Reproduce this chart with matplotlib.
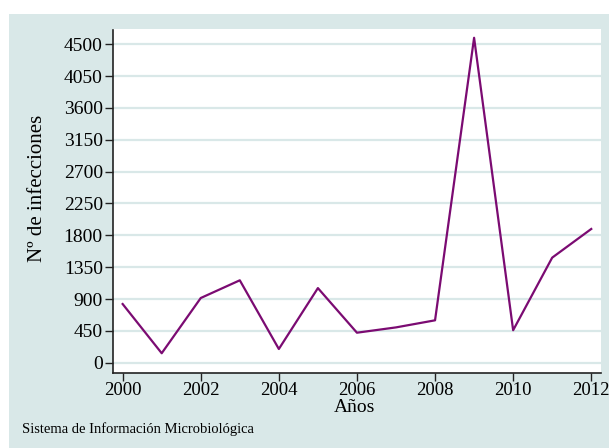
import matplotlib
matplotlib.use("Agg")
import matplotlib.pyplot as plt
from matplotlib.patches import Rectangle

years = [2000, 2001, 2002, 2003, 2004, 2005, 2006, 2007, 2008, 2009, 2010, 2011, 2012]
infecciones = [830, 135, 915, 1165, 195, 1055, 425, 500, 600, 4590, 460, 1485, 1890]
yticks = [0, 450, 900, 1350, 1800, 2250, 2700, 3150, 3600, 4050, 4500]
xticks = [2000, 2002, 2004, 2006, 2008, 2010, 2012]

W, H = 609, 448
fig = plt.figure(figsize=(W / 100, H / 100), dpi=100)
fig.patch.set_facecolor("white")
bg = "#d9e8e8"
fig.patches.append(Rectangle((8.5 / W, 0), 1 - 8.5 / W, 1 - 14 / H, transform=fig.transFigure,
                             facecolor=bg, edgecolor="none", zorder=-10))

left, right, top, bottom = 112.5, 601, 29.5, 372.5
ax = fig.add_axes([left / W, 1 - bottom / H, (right - left) / W, (bottom - top) / H])
ax.set_facecolor("white")

plt.rcParams["font.family"] = ["Liberation Serif", "DejaVu Serif"]
font = ["Liberation Serif", "DejaVu Serif"]

for y in yticks:
    ax.axhline(y, color=bg, lw=1.6, zorder=1)

ax.plot(years, infecciones, color="#7b0b72", lw=1.6, zorder=3)

ax.set_xlim(1999.74, 2012.25)
ax.set_ylim(-137, 4707)
ax.set_yticks(yticks)
ax.set_xticks(xticks)
ax.set_yticklabels([str(v) for v in yticks], family=font, fontsize=14)
ax.set_xticklabels([str(v) for v in xticks], family=font, fontsize=13.5)
ax.tick_params(axis="y", direction="out", length=6, width=1, color="#222222", pad=1)
ax.tick_params(axis="x", direction="out", length=5.5, width=1, color="#222222", pad=1)
for s in ["top", "right"]:
    ax.spines[s].set_visible(False)
for s in ["left", "bottom"]:
    ax.spines[s].set_color("#222222")
    ax.spines[s].set_linewidth(1.2)

ax.set_xlabel("Años", family=font, fontsize=14, va="center")
ax.xaxis.set_label_coords((354.6 - left) / (right - left), (bottom - 407) / (bottom - top))
ax.set_ylabel("Nº de infecciones", family=font, fontsize=15, va="center")
ax.yaxis.set_label_coords((37.7 - left) / (right - left), (bottom - 188) / (bottom - top))

fig.text(22 / W, 1 - 429 / H, "Sistema de Información Microbiológica", family=font,
         fontsize=10.5, va="center", ha="left")

fig.savefig("out.png", dpi=100, facecolor=fig.get_facecolor())
